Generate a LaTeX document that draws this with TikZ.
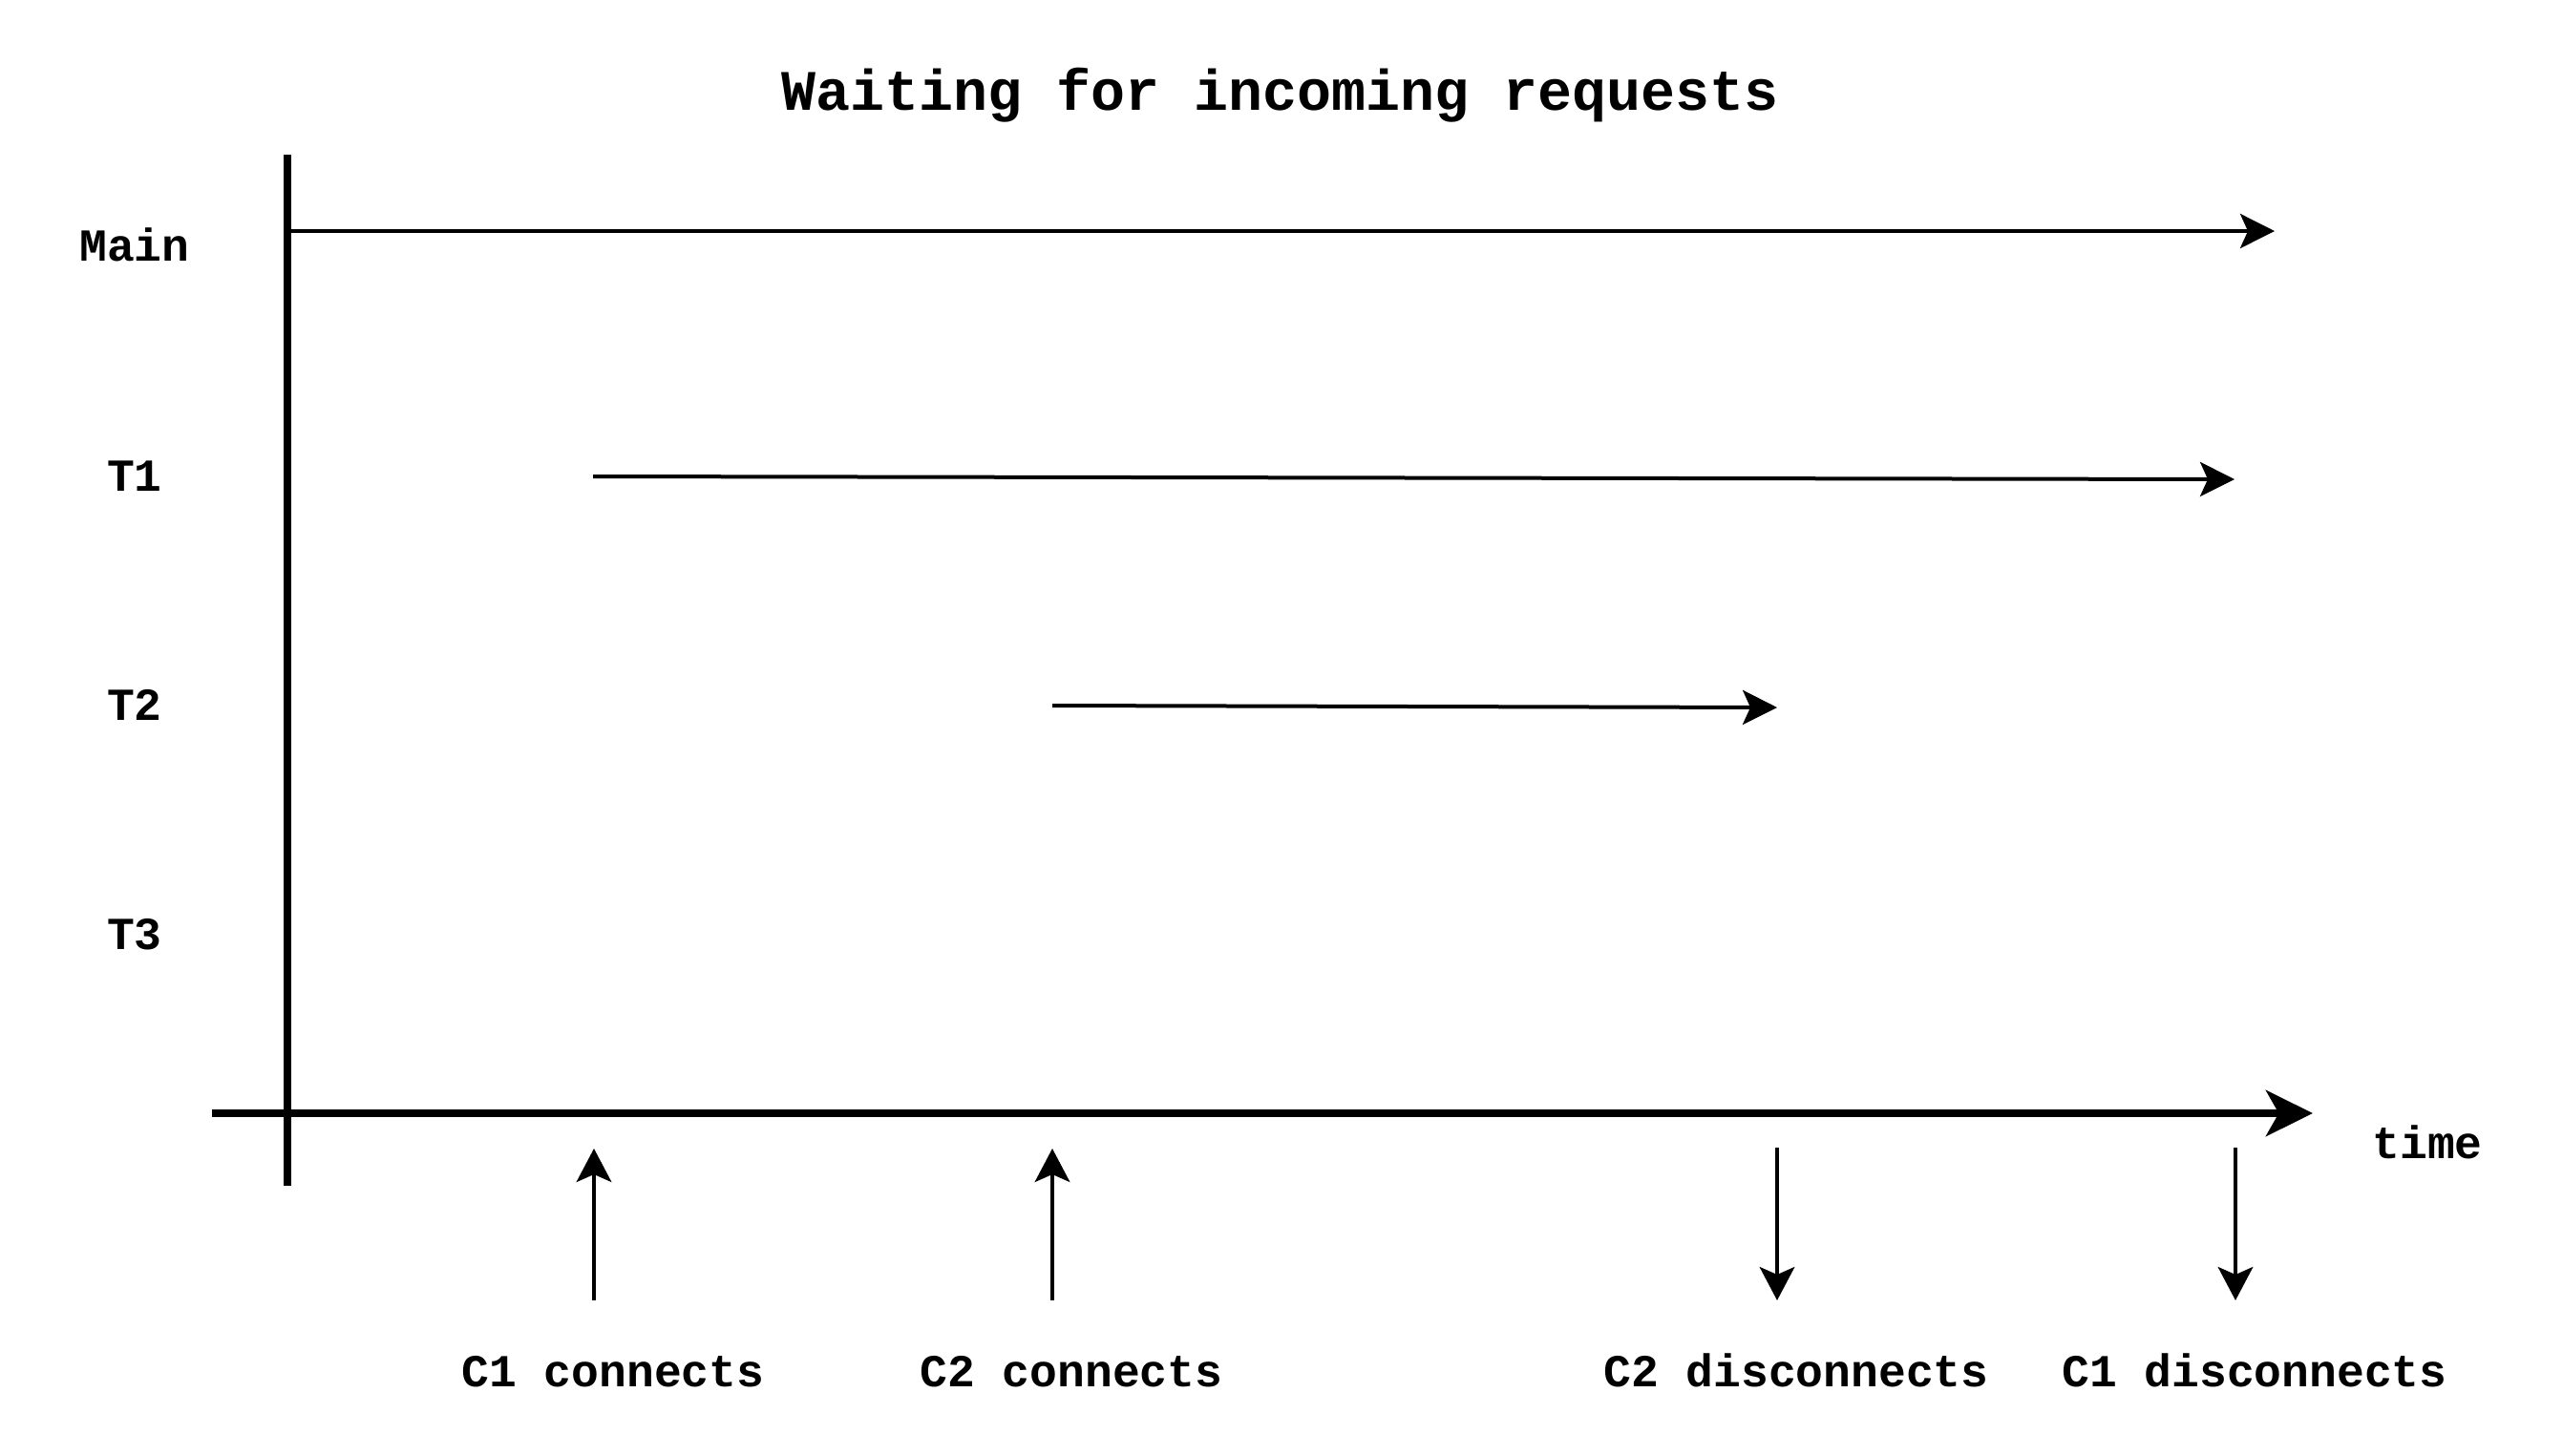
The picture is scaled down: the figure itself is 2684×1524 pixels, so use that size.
\documentclass[tikz,border=0pt]{standalone}
\usepackage{fontspec}
\setmainfont{Liberation Mono}
\usetikzlibrary{arrows.meta}
\begin{document}
\begin{tikzpicture}[x=0.3pt,y=-0.3pt,
  lbl/.style={anchor=base,inner sep=0pt,font=\bfseries\fontsize{14.4}{17}\selectfont},
  ttl/.style={anchor=base,inner sep=0pt,font=\bfseries\fontsize{18}{22}\selectfont},
  axis/.style={line width=2.4pt,-{Stealth[length=14.7pt,width=14.4pt,inset=4pt]}},
  flow/.style={line width=1.2pt,-{Stealth[length=10.8pt,width=10.8pt,inset=2.4pt]}},
  evt/.style={line width=1.1pt,-{Stealth[length=10.5pt,width=11pt,inset=2.4pt]}}]
\useasboundingbox (0,0) rectangle (2684,1524);
% title and labels
\node[ttl] (title) at (1341,115) {Waiting for incoming requests};
\node[lbl] (main) at (141,273) {Main};
\node[lbl] (t1) at (141,514) {T1};
\node[lbl] (t2) at (141,754) {T2};
\node[lbl] (t3) at (141,994) {T3};
\node[lbl] (time) at (2542,1213) {time};
\node[lbl] (c1c) at (642,1452) {C1 connects};
\node[lbl] (c2c) at (1122,1452) {C2 connects};
\node[lbl] (c2d) at (1881,1452) {C2 disconnects};
\node[lbl] (c1d) at (2361,1452) {C1 disconnects};
% axes
\coordinate (vtop) at (301,162);
\coordinate (vbot) at (301,1242);
\coordinate (hl) at (222,1166);
\coordinate (hr) at (2422,1166);
\draw[line width=2.4pt] (vtop) -- (vbot);
\draw[axis] (hl) -- (hr);
% thread lifelines
\coordinate (m0) at (301,242);
\coordinate (m1) at (2382,242);
\coordinate (a0) at (621,499);
\coordinate (a1) at (2340,502);
\coordinate (b0) at (1102,739);
\coordinate (b1) at (1861,741);
\draw[flow] (m0) -- (m1);
\draw[flow] (a0) -- (a1);
\draw[flow] (b0) -- (b1);
% events
\coordinate (e1a) at (622,1362);
\coordinate (e1b) at (622,1203);
\coordinate (e2a) at (1102,1362);
\coordinate (e2b) at (1102,1203);
\coordinate (e3a) at (1861,1202);
\coordinate (e3b) at (1861,1362);
\coordinate (e4a) at (2341,1202);
\coordinate (e4b) at (2341,1362);
\draw[evt] (e1a) -- (e1b);
\draw[evt] (e2a) -- (e2b);
\draw[evt] (e3a) -- (e3b);
\draw[evt] (e4a) -- (e4b);
\end{tikzpicture}
\end{document}
